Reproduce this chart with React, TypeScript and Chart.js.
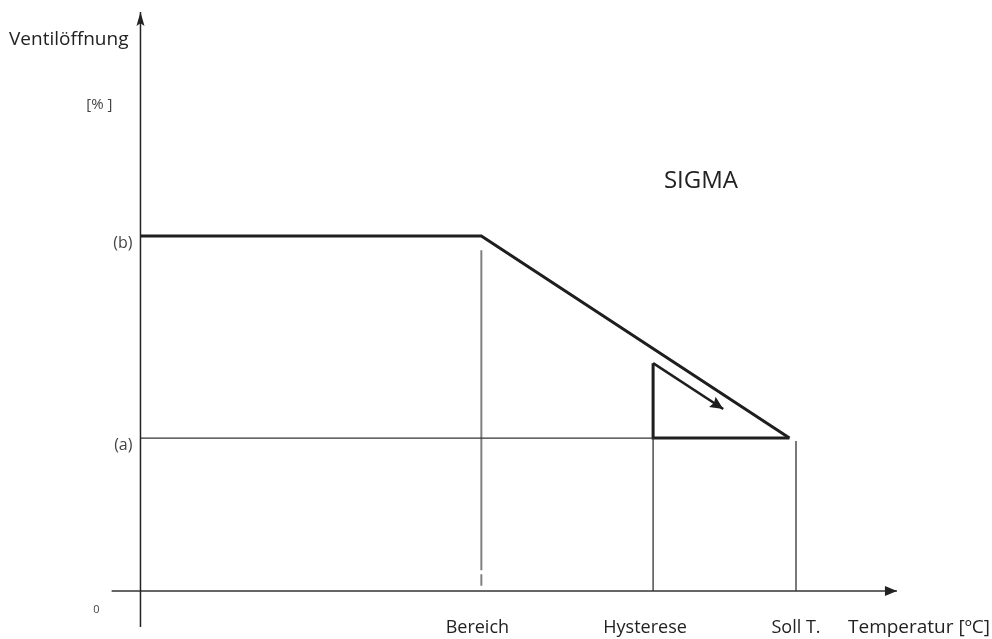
import React, { useEffect, useRef } from "react";
import { Chart, registerables } from "chart.js";

Chart.register(...registerables);

// ---- Data (schematic units: temperature 0..100 = origin..Soll T., opening 0..100 = 0..(b)) ----
const categories = ["Bereich", "Hysterese", "Soll T."];
const categoryX = [52, 78.2, 100];
const levelLabels = ["(a)", "(b)"];
const levelY = [43.1, 100];
const curveX = [0, 52, 99];
const curveY = [100, 100, 43.1];
const triangleX = [78.2, 78.2, 99];
const triangleY = [64.2, 43.1, 43.1];
const arrowX = [78.2, 88.9];
const arrowY = [64.2, 51.3];
const xAxisRange = [-4.4, 115.4];
const yAxisRange = [-10.1, 163.1];
const bereichLineY = [96, 1.5];
const sigmaPos = { x: 85.5, y: 113.5 };
const yTitle = "Ventilöffnung";
const yUnit = "[% ]";
const xTitle = "Temperatur [ºC]";
const seriesName = "SIGMA";
const originLabel = "0";

const FONT = "'Open Sans', 'Noto Sans', sans-serif";

const pts = (xs: number[], ys: number[]) => xs.map((v, i) => ({ x: v, y: ys[i] }));

function arrowHead(ctx: CanvasRenderingContext2D, x0: number, y0: number, x1: number, y1: number, len: number, half: number, notch: number, color: string) {
  const a = Math.atan2(y1 - y0, x1 - x0);
  const dx = Math.cos(a), dy = Math.sin(a);
  const bx = x1 - dx * len, by = y1 - dy * len;
  const nx = x1 - dx * len * notch, ny = y1 - dy * len * notch;
  ctx.save();
  ctx.fillStyle = color;
  ctx.beginPath();
  ctx.moveTo(x1, y1);
  ctx.lineTo(bx - dy * half, by + dx * half);
  ctx.lineTo(nx, ny);
  ctx.lineTo(bx + dy * half, by - dx * half);
  ctx.closePath();
  ctx.fill();
  ctx.restore();
}

const diagramPlugin = {
  id: "diagram",
  afterDatasetsDraw(chart: any) {
    const { ctx, scales } = chart;
    const px = (v: number) => scales.x.getPixelForValue(v);
    const py = (v: number) => scales.y.getPixelForValue(v);

    // axis arrowheads
    arrowHead(ctx, px(0), py(yAxisRange[0]), px(0), py(yAxisRange[1]), 14, 4, 0.8, "#222");
    arrowHead(ctx, px(xAxisRange[0]), py(0), px(xAxisRange[1]), py(0), 12, 5, 1, "#222");
    // hysteresis arrowhead
    arrowHead(ctx, px(arrowX[0]), py(arrowY[0]), px(arrowX[1]), py(arrowY[1]), 13, 6, 0.85, "#1e1e1e");

    ctx.save();
    ctx.textBaseline = "alphabetic";
    ctx.fillStyle = "#222";

    // y title
    ctx.font = `19px ${FONT}`;
    ctx.textAlign = "right";
    ctx.fillText(yTitle, px(0) - 12, py(yAxisRange[1]) + 33);

    // unit
    ctx.font = `15px ${FONT}`;
    ctx.fillStyle = "#444";
    ctx.fillText(yUnit, px(0) - 28, py(yAxisRange[1]) + 97);

    // level labels
    ctx.font = `16px ${FONT}`;
    ctx.textBaseline = "middle";
    levelLabels.forEach((t, i) => {
      ctx.fillText(t, px(0) - 8, py(levelY[i]) + 7);
    });

    // origin
    ctx.font = `11px ${FONT}`;
    ctx.textAlign = "center";
    ctx.fillText(originLabel, px(0) - 44, py(0) + 19);

    // category labels
    ctx.fillStyle = "#222";
    ctx.textBaseline = "alphabetic";
    ctx.font = `18px ${FONT}`;
    const offs = [-4, -8, 0];
    categories.forEach((t, i) => {
      ctx.fillText(t, px(categoryX[i]) + offs[i], py(0) + 42);
    });

    // x title
    ctx.textAlign = "left";
    ctx.font = `19px ${FONT}`;
    ctx.fillText(xTitle, px(categoryX[2]) + 52, py(0) + 42);

    // series name
    ctx.textAlign = "center";
    ctx.font = `24px ${FONT}`;
    ctx.fillText(seriesName, px(sigmaPos.x), py(sigmaPos.y));
    ctx.restore();
  },
};

export default function App() {
  const ref = useRef<HTMLCanvasElement>(null);
  useEffect(() => {
    if (!ref.current) return;
    const line = (data: any[], color: string, width: number, extra: any = {}) => ({
      data,
      showLine: true,
      borderColor: color,
      borderWidth: width,
      pointRadius: 0,
      fill: false,
      tension: 0,
      borderJoinStyle: "miter",
      ...extra,
    });
    const chart = new Chart(ref.current, {
      type: "scatter",
      data: {
        datasets: [
          line(pts([0, 0], yAxisRange), "#222", 1.5),
          line(pts(xAxisRange, [0, 0]), "#333", 1.5),
          line(pts([0, triangleX[0]], [levelY[0], levelY[0]]), "#333", 1.3),
          line(pts([categoryX[0], categoryX[0]], bereichLineY), "#808080", 2, { borderDash: [320, 4] }),
          line(pts([categoryX[1], categoryX[1]], [levelY[0], 0]), "#333", 1.3),
          line(pts([categoryX[2], categoryX[2]], [levelY[0] - 0.8, 0]), "#333", 1.3),
          line(pts(curveX, curveY), "#1e1e1e", 3),
          line(pts(triangleX, triangleY), "#1e1e1e", 3),
          line(pts(arrowX, arrowY), "#1e1e1e", 2.5),
        ] as any,
      },
      options: {
        responsive: false,
        animation: false,
        events: [],
        layout: { padding: 0 },
        plugins: { legend: { display: false }, tooltip: { enabled: false } },
        scales: {
          x: { type: "linear", min: -21.43, max: 129.9, display: false },
          y: { type: "linear", min: -13.5, max: 166.5, display: false },
        },
      },
      plugins: [diagramPlugin],
    } as any);
    return () => chart.destroy();
  }, []);
  return (
    <div style={{ position: "absolute", left: 0, top: 0, width: 992, height: 639, background: "#fff" }}>
      <canvas ref={ref} width={992} height={639} style={{ display: "block" }} />
    </div>
  );
}
